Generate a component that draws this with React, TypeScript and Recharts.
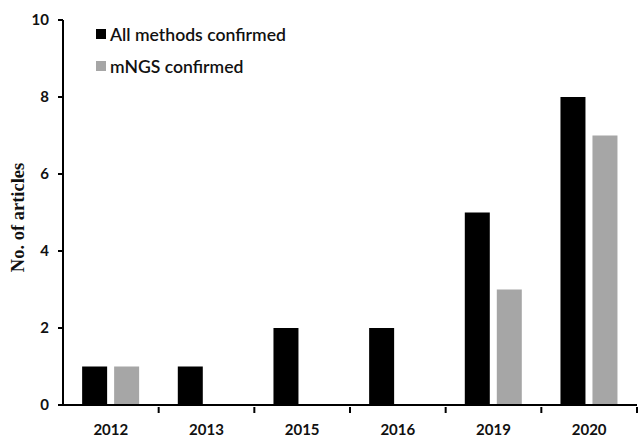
import { BarChart, Bar, XAxis, YAxis } from 'recharts';

const years = ['2012', '2013', '2015', '2016', '2019', '2020'];
const allMethods = [1, 1, 2, 2, 5, 8];
const mngs = [1, 0, 0, 0, 3, 7];
const yTicks = [0, 2, 4, 6, 8, 10];

const data = years.map((year, i) => ({ year, all: allMethods[i], mngs: mngs[i] }));

const W = 639;
const H = 439;
const LEFT = 63;
const RIGHT = 2;
const halfBand = (W - LEFT - RIGHT) / years.length / 2;

const tickFont = { fontFamily: 'Lato, sans-serif', fontWeight: 700, fontSize: 15, fill: '#111' };

const legendItems = [
  { label: 'All methods confirmed', color: '#000' },
  { label: 'mNGS confirmed', color: '#a6a6a6' },
];

function XTick(props: any) {
  const { x, y, payload } = props;
  return (
    <g>
      <line x1={x + halfBand} x2={x + halfBand} y1={y - 6} y2={y} stroke="#000" strokeWidth={2} />
      <text x={x} y={y + 18} textAnchor="middle" dominantBaseline="middle" style={tickFont}>
        {payload.value}
      </text>
    </g>
  );
}

function LegendBox() {
  return (
    <div
      style={{
        position: 'absolute',
        top: 18,
        left: 96,
        fontFamily: 'Lato, sans-serif',
        fontSize: 17.6,
        fontWeight: 600,
        color: '#111',
      }}
    >
      {legendItems.map((it) => (
        <div key={it.label} style={{ display: 'flex', alignItems: 'center', height: 32 }}>
          <span style={{ width: 10, height: 10, background: it.color, marginRight: 4 }} />
          {it.label}
        </div>
      ))}
    </div>
  );
}

export default function App() {
  return (
    <div style={{ position: 'relative', width: W, height: H, background: '#fff' }}>
      <style>{'body{margin:0}'}</style>
      <BarChart
        width={W}
        height={H}
        data={data}
        margin={{ top: 20, right: RIGHT, bottom: 0, left: 0 }}
        barCategoryGap="20%"
        barGap={7}
      >
        <XAxis
          dataKey="year"
          height={34}
          axisLine={{ stroke: '#000', strokeWidth: 2 }}
          tickLine={false}
          tick={<XTick />}
          interval={0}
        />
        <YAxis
          width={LEFT}
          domain={[0, 10]}
          ticks={yTicks}
          interval={0}
          axisLine={{ stroke: '#000', strokeWidth: 2 }}
          tickLine={{ stroke: '#000', strokeWidth: 2 }}
          tickSize={5}
          tickMargin={9}
          tick={tickFont}
          label={{
            content: (p: any) => {
              const vb = p.viewBox;
              const cx = 20;
              const cy = vb.y + vb.height / 2 + 5;
              return (
                <text
                  x={cx}
                  y={cy}
                  transform={`rotate(-90, ${cx}, ${cy})`}
                  textAnchor="middle"
                  dominantBaseline="middle"
                  style={{ fontFamily: '"Liberation Serif", serif', fontWeight: 700, fontSize: 18.5, fill: '#111' }}
                >
                  No. of articles
                </text>
              );
            },
          }}
        />
        <Bar dataKey="all" name="All methods confirmed" fill="#000" isAnimationActive={false} />
        <Bar dataKey="mngs" name="mNGS confirmed" fill="#a6a6a6" isAnimationActive={false} />
      </BarChart>
      <LegendBox />
    </div>
  );
}
